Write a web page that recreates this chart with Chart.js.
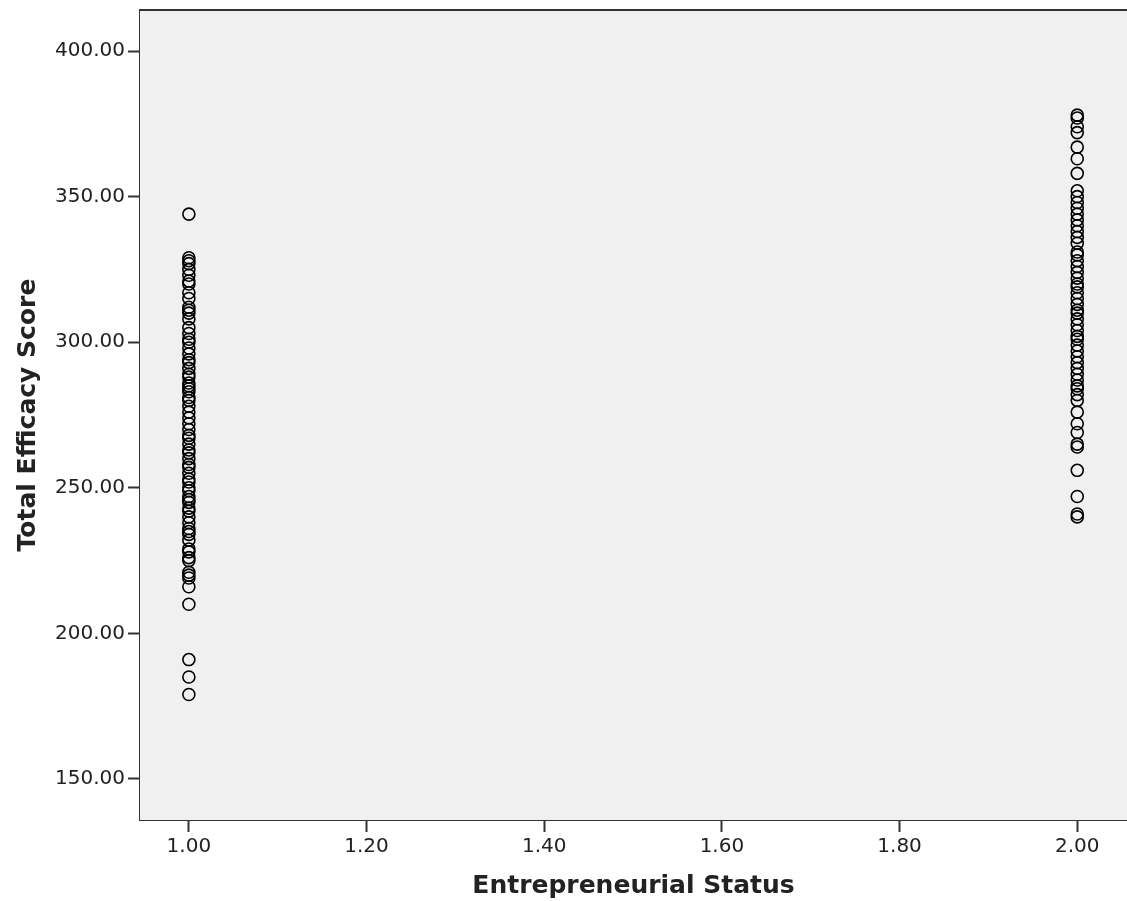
<!DOCTYPE html>
<html>
<head>
<meta charset="utf-8">
<script src="https://cdn.jsdelivr.net/npm/chart.js@4/dist/chart.umd.min.js"></script>
<style>
  html, body { margin: 0; padding: 0; background: #ffffff; overflow: hidden; }
  #wrap { width: 1127px; height: 901px; }
  #c { display: block; }
</style>
</head>
<body>
<div id="wrap"><canvas id="c" width="1127" height="901"></canvas></div>
<script>
// Entrepreneurial status groups (x) and total efficacy scores (y)
const statusGroups = [1.00, 2.00];
const scoresGroup1 = [344, 329, 328, 327, 325, 323, 321, 320, 317, 315, 312, 311, 310, 308, 305, 303,
  301, 300, 298, 296, 294, 293, 291, 289, 288, 286, 285, 284, 283, 281, 280, 278, 276, 274, 272, 270,
  268, 267, 265, 263, 262, 260, 258, 257, 255, 253, 252, 250, 249, 247, 246, 245, 243, 242, 240, 238,
  236, 235, 234, 232, 229, 228, 226, 225, 221, 220, 219, 216, 210, 191, 185, 179];
const scoresGroup2 = [378, 377, 374, 372, 367, 363, 358, 352, 350, 348, 346, 344, 342, 340, 338, 336,
  334, 331, 330, 328, 326, 324, 322, 320, 319, 317, 315, 313, 311, 310, 308, 306, 304, 302, 301, 299,
  297, 295, 293, 291, 289, 287, 285, 284, 282, 280, 276, 272, 269, 265, 264, 256, 247, 241, 240];
const xTickValues = [1.0, 1.2, 1.4, 1.6, 1.8, 2.0];
const yTickValues = [150, 200, 250, 300, 350, 400];

const points = [
  ...scoresGroup1.map(v => ({ x: statusGroups[0], y: v })),
  ...scoresGroup2.map(v => ({ x: statusGroups[1], y: v }))
];

// Grey plot panel with a dark frame on top
const panel = {
  id: 'panel',
  beforeDatasetsDraw(chart) {
    const { ctx, chartArea: a } = chart;
    ctx.save();
    ctx.fillStyle = '#f0f0f0';
    ctx.fillRect(a.left, a.top, a.right - a.left, a.bottom - a.top);
    ctx.restore();
  },
  afterDraw(chart) {
    const { ctx, chartArea: a } = chart;
    ctx.save();
    ctx.strokeStyle = '#333333';
    ctx.lineWidth = 2;
    ctx.beginPath();
    ctx.moveTo(a.left, a.top);
    ctx.lineTo(a.right, a.top);
    ctx.stroke();
    ctx.restore();
  }
};

// Fixed axis box sizes, no extra label overhang padding
const noOverhang = s => {
  s.paddingTop = 0; s.paddingBottom = 0; s.paddingLeft = 0; s.paddingRight = 0;
};

const tickFont = { family: 'DejaVu Sans', size: 20 };
const titleFont = { family: 'DejaVu Sans', size: 25, weight: 'bold' };

new Chart(document.getElementById('c'), {
  type: 'scatter',
  data: {
    datasets: [{
      data: points,
      pointStyle: 'circle',
      pointRadius: 6,
      pointBorderWidth: 1.6,
      pointBorderColor: '#000000',
      pointBackgroundColor: 'rgba(0,0,0,0)'
    }]
  },
  options: {
    responsive: false,
    animation: false,
    layout: { autoPadding: false, padding: { top: 10, right: 0, left: 0, bottom: 0 } },
    plugins: { legend: { display: false }, tooltip: { enabled: false } },
    scales: {
      x: {
        type: 'linear',
        min: 0.945,
        max: 2.056,
        afterBuildTicks: s => { s.ticks = xTickValues.map(v => ({ value: v })); },
        afterFit: s => { s.height = 81; noOverhang(s); },
        ticks: { font: tickFont, color: '#222222', padding: 3, maxRotation: 0,
                 callback: v => Number(v).toFixed(2) },
        grid: { drawOnChartArea: false, drawTicks: true, tickLength: 12, tickColor: '#333333', tickWidth: 2 },
        border: { display: true, color: '#333333', width: 2 },
        title: { display: true, text: 'Entrepreneurial Status', font: titleFont, color: '#222222', padding: 0 }
      },
      y: {
        type: 'linear',
        min: 135.9,
        max: 414.1,
        afterBuildTicks: s => { s.ticks = yTickValues.map(v => ({ value: v })); },
        afterFit: s => { s.width = 140; noOverhang(s); },
        ticks: { font: tickFont, color: '#222222', padding: 3,
                 callback: v => Number(v).toFixed(2) },
        grid: { drawOnChartArea: false, drawTicks: true, tickLength: 12, tickColor: '#333333', tickWidth: 2 },
        border: { display: true, color: '#333333', width: 2 },
        title: { display: true, text: 'Total Efficacy Score', font: titleFont, color: '#222222', padding: 13 }
      }
    }
  },
  plugins: [panel]
});
</script>
</body>
</html>
